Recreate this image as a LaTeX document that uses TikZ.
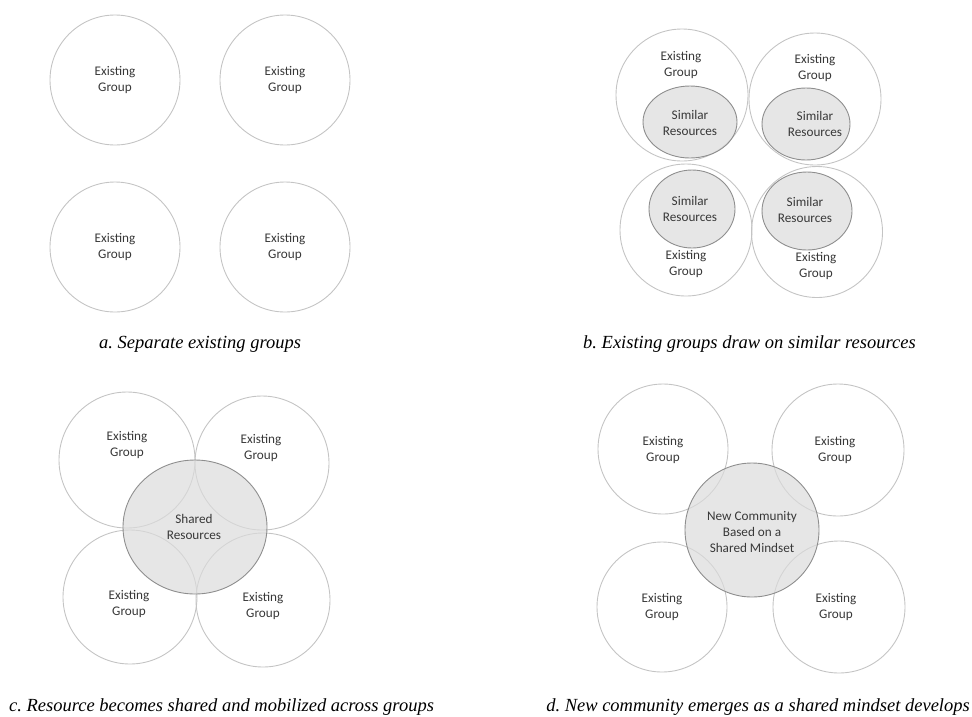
\documentclass[tikz,border=0pt]{standalone}
\usepackage{fontspec}
\setmainfont{Carlito}
\newfontfamily\capfont{Liberation Serif}
\usetikzlibrary{shapes.geometric}
\definecolor{ringgray}{HTML}{C4C4C4}
\definecolor{sharegray}{HTML}{8E8E8E}
\definecolor{sharefill}{HTML}{DCDCDC}
\definecolor{txtgray}{HTML}{383838}

\begin{document}
\frenchspacing
\begin{tikzpicture}[x=1pt,y=-1pt,
    group/.style={circle,draw=ringgray,line width=0.9pt,inner sep=0pt,minimum size=#1},
    group/.default=130pt,
    share/.style={ellipse,draw=sharegray,fill=sharefill,fill opacity=0.7,line width=0.9pt,inner sep=0pt},
    lbl/.style={align=center,text=txtgray,font=\fontsize{13.2}{16}\selectfont},
    captext/.style={inner sep=0pt,font=\capfont\itshape\fontsize{18.5}{20}\selectfont}]
\useasboundingbox (0,0) rectangle (972,716);

% a
\node[group] (a1) at (115,80) {};
\node[group] (a2) at (285,80) {};
\node[group] (a3) at (115,247) {};
\node[group] (a4) at (285,247) {};
\node[lbl] (ta1) at (a1) {Existing\\Group};
\node[lbl] (ta2) at (a2) {Existing\\Group};
\node[lbl] (ta3) at (a3) {Existing\\Group};
\node[lbl] (ta4) at (a4) {Existing\\Group};
\node[captext,anchor=west] (capa) at (99,344) {a. Separate existing groups};

% b
\node[group=132pt] (b1) at (682,95) {};
\node[group=132pt] (b2) at (815,99) {};
\node[group=132pt] (b3) at (686,230) {};
\node[group=131pt] (b4) at (817,232) {};
\node[share,minimum width=94pt,minimum height=72pt] (r1) at (690,122) {};
\node[share,minimum width=88pt,minimum height=72pt] (r2) at (806,124) {};
\node[share,minimum width=86pt,minimum height=78pt] (r3) at (692,209) {};
\node[share,minimum width=90pt,minimum height=78pt] (r4) at (807,211) {};
\node[lbl] (tb1) at (681,65) {Existing\\Group};
\node[lbl] (tb2) at (815,68) {Existing\\Group};
\node[lbl] (tb3) at (686,264) {Existing\\Group};
\node[lbl] (tb4) at (816,266) {Existing\\Group};
\node[lbl] (tr1) at (690,123) {Similar\\Resources};
\node[lbl] (tr2) at (815,124) {Similar\\Resources};
\node[lbl] (tr3) at (690,209) {Similar\\Resources};
\node[lbl] (tr4) at (805,210) {Similar\\Resources};
\node[captext,anchor=west] (capb) at (583,344) {b. Existing groups draw on similar resources};

% c
\node[group=136pt] (c1) at (127,460) {};
\node[group=134pt] (c2) at (262,463) {};
\node[group=134pt] (c3) at (130,597) {};
\node[group=134pt] (c4) at (263,600) {};
\node[share,minimum width=144pt,minimum height=134pt] (sc) at (195,527) {};
\node[lbl] (tc1) at (127,445) {Existing\\Group};
\node[lbl] (tc2) at (261,448) {Existing\\Group};
\node[lbl] (tc3) at (129,604) {Existing\\Group};
\node[lbl] (tc4) at (263,606) {Existing\\Group};
\node[lbl] (tsc) at (194,527) {Shared\\Resources};
\node[captext,anchor=west] (capc) at (9,707) {c. Resource becomes shared and mobilized across groups};

% d
\node[group] (d1) at (663,449) {};
\node[group=132pt] (d2) at (838,450) {};
\node[group] (d3) at (662,607) {};
\node[group=132pt] (d4) at (839,607) {};
\node[share,circle,minimum size=134pt] (sd) at (752,530) {};
\node[lbl] (td1) at (663,450) {Existing\\Group};
\node[lbl] (td2) at (835,450) {Existing\\Group};
\node[lbl] (td3) at (662,607) {Existing\\Group};
\node[lbl] (td4) at (836,607) {Existing\\Group};
\node[lbl] (tsd) at (752,532) {New Community\\Based on a\\Shared Mindset};
\node[captext,anchor=east] (capd) at (970,707) {d. New community emerges as a shared mindset develops};
\end{tikzpicture}
\end{document}
